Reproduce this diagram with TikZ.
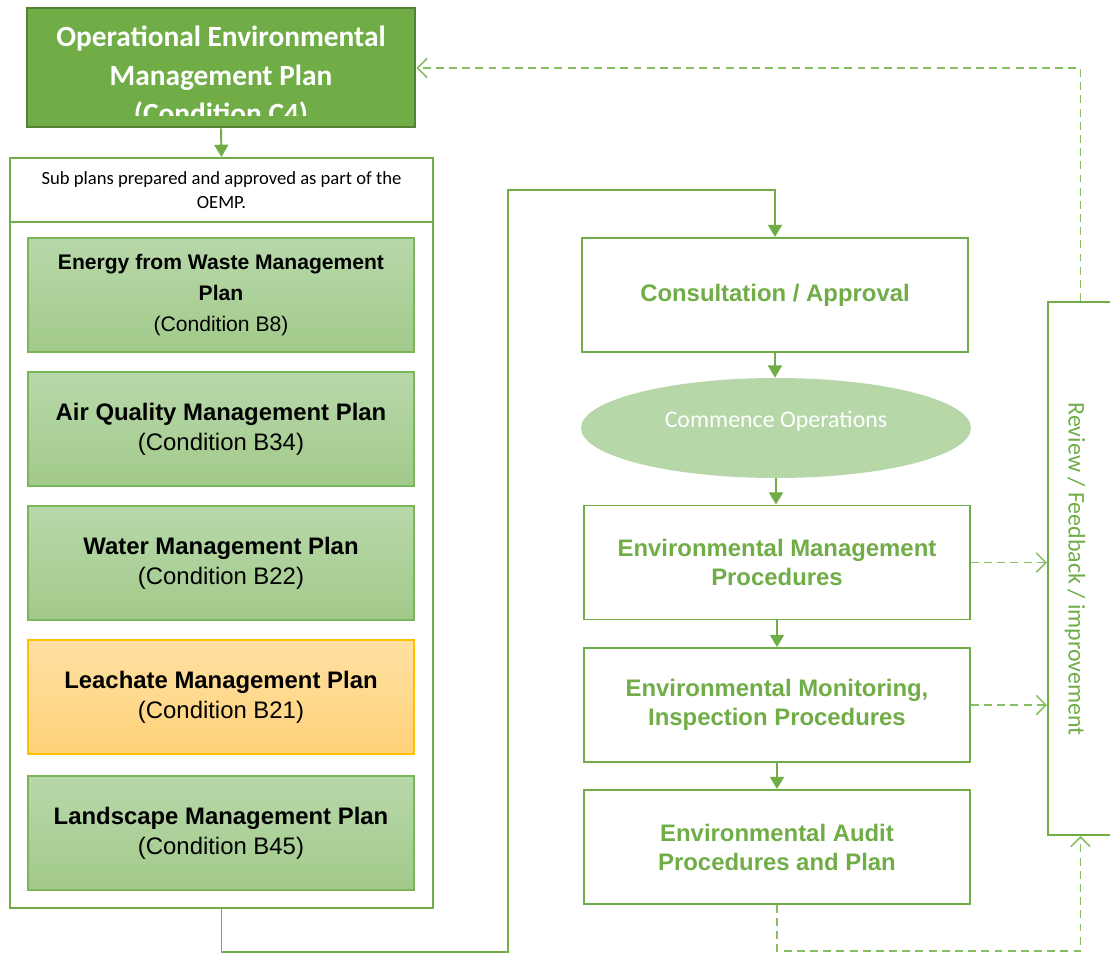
\documentclass[tikz,border=0pt]{standalone}
\usepackage{fontspec}
\setmainfont{Liberation Sans}
\newfontfamily\calfont{Carlito}
\usetikzlibrary{arrows.meta, shapes.geometric}
\definecolor{oegreen}{HTML}{70AD47}
\definecolor{oedark}{HTML}{548235}
\definecolor{oedash}{HTML}{86BE62}
\definecolor{subtop}{HTML}{B7D8AA}
\definecolor{subbot}{HTML}{A2CA8A}
\definecolor{subline}{HTML}{7CB65A}
\definecolor{ortop}{HTML}{FFE0A2}
\definecolor{orbot}{HTML}{FFD27A}
\definecolor{orline}{HTML}{FFC000}
\definecolor{ovalfill}{HTML}{B6D7A8}
\tikzset{
    plainbox/.style={draw=oegreen, line width=1.1pt, fill=white, inner sep=0pt}, % outline only
    subbox/.style={draw=subline, line width=0.8pt, top color=subtop, bottom color=subbot,
        minimum width=7.72cm, minimum height=2.28cm, align=center, inner sep=0pt,
        font=\fontsize{13.6}{17}\selectfont}, % sub plans
    stepbox/.style={plainbox, minimum width=7.72cm, minimum height=2.28cm, align=center,
        text=oegreen, font=\fontsize{13.6}{16.5}\selectfont\bfseries}, % right column
    flow/.style={draw=oegreen, line width=1.1pt, -{Triangle[length=7pt, width=8pt]}}, % solid links
    back/.style={draw=oedash, line width=0.9pt, dash pattern=on 4.5pt off 3pt,
        -{Straight Barb[length=5.5pt, width=11pt]}} % feedback links
}

\begin{document}
\begin{tikzpicture}[x=0.02cm, y=-0.02cm]
    \clip (0,0) rectangle (1110,954);
    \fill[white] (0,0) rectangle (1110,954);

    % title box, last line cut short
    \node[draw=oedark, line width=1.6pt, fill=oegreen, minimum width=7.76cm, minimum height=2.38cm] (oemp) at (221,67.5) {};
    \begin{scope}
        \clip (oemp.north west) rectangle ([yshift=0.26cm]oemp.south east);
        \node[text=white, align=center, font=\calfont\fontsize{16.7}{22}\selectfont\bfseries] (oemptxt) at (221,77)
            {Operational Environmental\\Management Plan\\(Condition C4)};
    \end{scope}

    % container of the sub plans
    \node[plainbox, minimum width=8.46cm, minimum height=15cm, anchor=north] (subs) at (221.5,157) {};
    \node[plainbox, minimum width=8.46cm, minimum height=1.28cm, anchor=north, align=center,
        font=\calfont\fontsize{10.6}{13.6}\selectfont] (subhead) at (221.5,157)
        {Sub plans prepared and approved as part of the\\OEMP.};

    \node[subbox, font=\fontsize{12}{17.6}\selectfont] (efw) at (221,295)
        {\bfseries Energy from Waste Management\\\bfseries Plan\\\mdseries (Condition B8)};
    \node[subbox] (air) at (221,429) {\bfseries Air Quality Management Plan\\(Condition B34)};
    \node[subbox] (water) at (221,563) {\bfseries Water Management Plan\\(Condition B22)};
    \node[subbox, draw=orline, top color=ortop, bottom color=orbot] (leach) at (221,697)
        {\bfseries Leachate Management Plan\\(Condition B21)};
    \node[subbox] (land) at (221,833) {\bfseries Landscape Management Plan\\(Condition B45)};

    % right column
    \node[stepbox] (consult) at (775,295) {Consultation / Approval};
    \node[ellipse, fill=ovalfill, minimum width=7.8cm, minimum height=2cm, text=white,
        font=\calfont\fontsize{13.6}{15}\selectfont] (commence) at (776,428) {\raisebox{10pt}{Commence Operations}};
    \node[stepbox] (emp) at (777,562.5) {Environmental Management\\Procedures};
    \node[stepbox] (monitor) at (777,705) {Environmental Monitoring,\\Inspection Procedures};
    \node[stepbox] (audit) at (777,847) {Environmental Audit\\Procedures and Plan};

    % review strip, runs off the right edge
    \node[plainbox, minimum width=1.3cm, minimum height=10.66cm, anchor=north west] (review) at (1047,301) {};
    \node[rotate=-90, text=oegreen, font=\calfont\fontsize{13.6}{15}\selectfont] (reviewlbl) at (1075,569)
        {Review / Feedback / improvement};

    % links
    \coordinate (loopA) at (subs.south |- 0,952);
    \coordinate (loopB) at (508,190);
    \draw[flow] (oemp.south) -- (subs.north);
    \draw[flow] (subs.south) -- (loopA) -| (loopB) -| (consult.north);
    \draw[flow] (consult.south) -- (consult.south |- commence.north);
    \draw[flow] (commence.south) -- (commence.south |- emp.north);
    \draw[flow] (emp.south) -- (monitor.north);
    \draw[flow] (monitor.south) -- (audit.north);

    \draw[back] (emp.east) -- (emp.east -| review.west);
    \draw[back] (monitor.east) -- (monitor.east -| review.west);
    \draw[back] (audit.south) -- ++(0,46) -| (review.south);
    \draw[back] (review.north) |- (oemp.east |- 0,68);
\end{tikzpicture}
\end{document}
